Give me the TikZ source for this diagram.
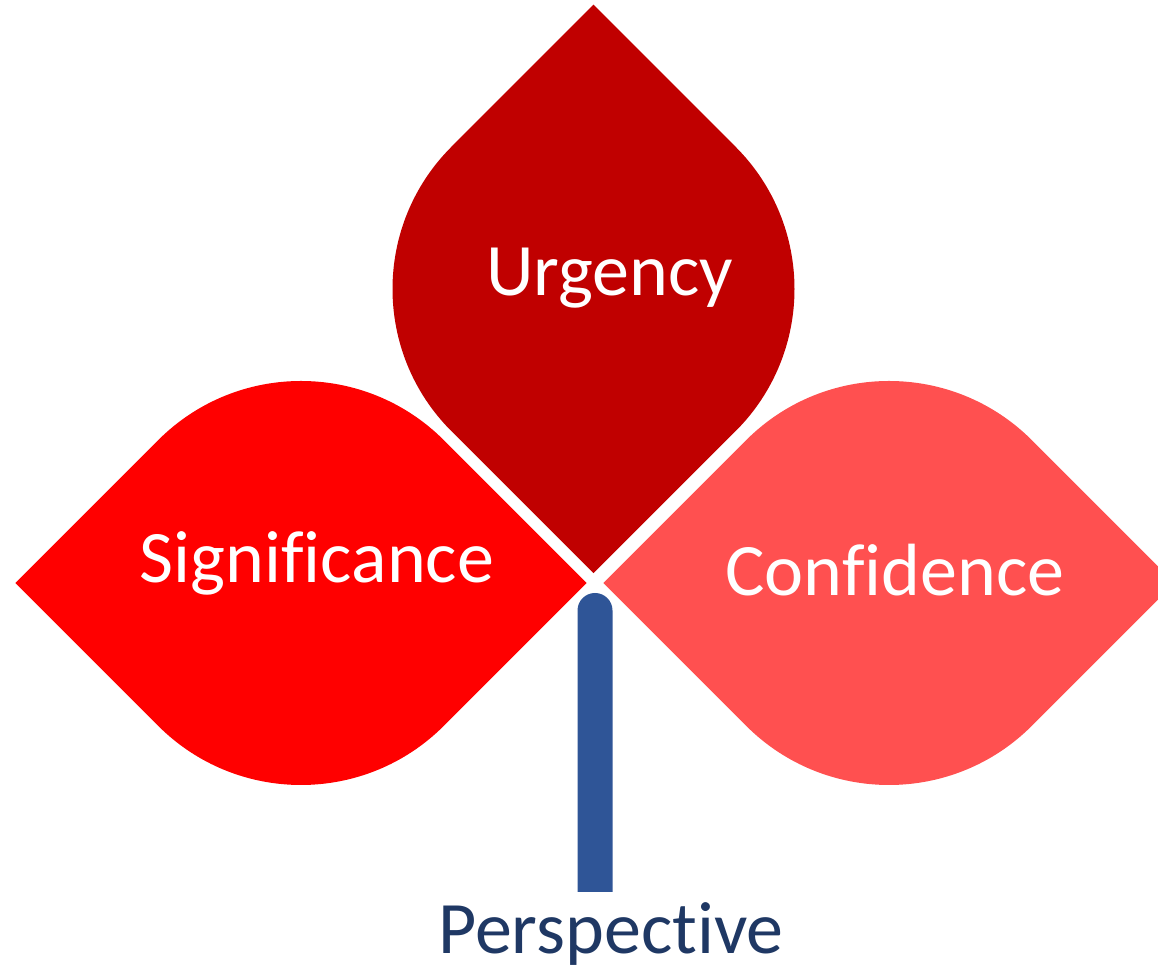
\documentclass[tikz,border=0pt]{standalone}
\usepackage{fontspec}
\setmainfont{Carlito}[RawFeature={-liga;-clig;-dlig;-calt}]
\definecolor{urgred}{HTML}{C00000}
\definecolor{sigred}{HTML}{FF0000}
\definecolor{confred}{HTML}{FF5050}
\definecolor{stemblue}{HTML}{2F5597}
\definecolor{labelblue}{HTML}{1F3864}
% Leaf: a square turned 45 degrees whose two opposite corners are rounded
% by its inscribed circle. #1,#2 centre, #3 radius, #4 colour.
\newcommand\leafwide[4]{%
  \pgfmathsetmacro\lfd{#3*sqrt(2)}%
  \pgfmathsetmacro\lfa{#3/sqrt(2)}%
  \fill[#4] (#1-\lfd,#2) -- (#1-\lfa,#2+\lfa)
    arc[start angle=135,end angle=45,radius=#3]
    -- (#1+\lfd,#2) -- (#1+\lfa,#2-\lfa)
    arc[start angle=-45,end angle=-135,radius=#3] -- cycle;}
\newcommand\leaftall[4]{%
  \pgfmathsetmacro\lfd{#3*sqrt(2)}%
  \pgfmathsetmacro\lfa{#3/sqrt(2)}%
  \fill[#4] (#1,#2+\lfd) -- (#1+\lfa,#2+\lfa)
    arc[start angle=45,end angle=-45,radius=#3]
    -- (#1,#2-\lfd) -- (#1-\lfa,#2-\lfa)
    arc[start angle=225,end angle=135,radius=#3] -- cycle;}
\begin{document}
\begin{tikzpicture}[x=0.5pt,y=0.5pt,
  leaflabel/.style={text=white,anchor=base,inner sep=0pt,
    font=\fontsize{37}{41}\selectfont},
  stemlabel/.style={text=labelblue,anchor=base,inner sep=0pt,
    font=\fontsize{37}{41}\selectfont}]
\useasboundingbox (0,0) rectangle (1158,973);
% three leaves
\leaftall{593.5}{684}{201}{urgred}
\leafwide{301}{390}{202}{sigred}
\leafwide{889}{390}{202}{confred}
% stem with a rounded top
\fill[stemblue] (577.5,81) -- (577.5,362.5)
  arc[start angle=180,end angle=0,radius=17.5] -- (612.5,81) -- cycle;
% labels
\node[leaflabel] (urg) at (609.5,677) {Urgency};
\node[leaflabel] (sig) at (317,390) {Significance};
\node[leaflabel] (conf) at (895,377) {Confidence};
\node[stemlabel] (persp) at (611,19) {Perspective};
\end{tikzpicture}
\end{document}
